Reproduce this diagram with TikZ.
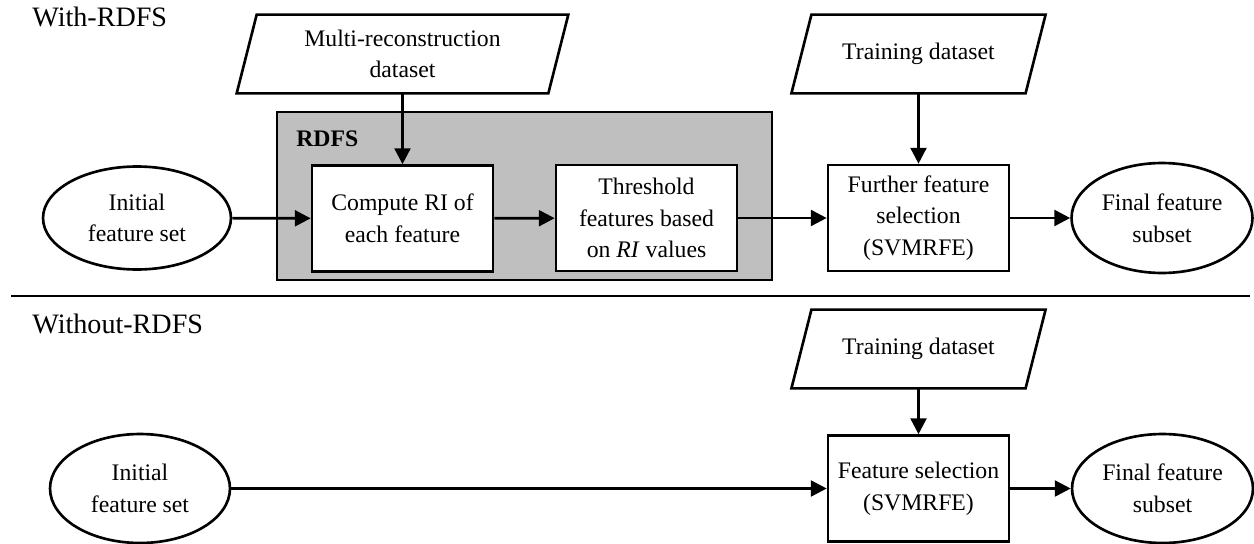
\documentclass[tikz,border=0pt]{standalone}
\usepackage{fontspec}
\setmainfont{Liberation Serif}
\usetikzlibrary{calc,arrows.meta,shapes.geometric}

\begin{document}
\begin{tikzpicture}[x=0.02cm,y=-0.02cm,font=\fontsize{13.5}{18}\selectfont]
\tikzset{
% Node styles for the flow chart: terminal, process and data
term node/.style={ellipse,draw,line width=1.5pt,align=center,inner sep=0pt,minimum width=3.62cm,minimum height=2.18cm},
proc node/.style={rectangle,draw,line width=1.5pt,fill=white,align=center,inner sep=0pt,minimum width=3.62cm,minimum height=2.12cm},
data node/.style={rectangle,align=center,inner sep=0pt,minimum height=1.56cm},
flow/.style={-{Triangle[length=9pt,width=9pt]},line width=1.5pt},
title/.style={font=\fontsize{16}{19}\selectfont,anchor=base west,inner sep=0pt}
}
\useasboundingbox (0,0) rectangle (1254,544);

% With-RDFS
\node[title] (t1) at (32,27) {With-RDFS};
\node(rdfs)[draw,line width=1.5pt,fill=black!25,minimum width=9.9cm,minimum height=3.36cm] at (524.5,196) {};
\node(rdfs lab)[anchor=base west,inner sep=0pt,font=\fontsize{13.5}{18}\selectfont\bfseries] at (296,147) {RDFS};
\node(multi)[data node,minimum width=6.22cm] at (402.5,54) {Multi-reconstruction\\ dataset};
\node(train1)[data node,minimum width=4.67cm] at (918.5,54) {Training dataset};
\node(init1)[term node,minimum width=3.76cm,minimum height=2.06cm] at (137,218) {Initial\\ feature set};
\node(compute)[proc node] at (402.5,218.5) {Compute RI of\\ each feature};
\node(thresh)[proc node] at (646.5,218) {Threshold\\ features based\\ on \textit{RI} values};
\node(further)[proc node] at (918.5,218) {Further feature\\ selection\\ (SVMRFE)};
\node(final1)[term node,minimum height=2.2cm] at (1162,218) {Final feature\\ subset};

\draw[flow] (multi) -- (compute);
\draw[flow] (init1) -- (compute);
\draw[flow] (compute) -- (thresh);
\draw[flow] (thresh) -- (further);
\draw[flow] (train1) -- (further);
\draw[flow] (further) -- (final1);

% separator
\draw[line width=1.6pt] (11,296) -- (1250,296);

% Without-RDFS
\node[title] (t2) at (32,333) {Without-RDFS};
\node(train2)[data node,minimum width=4.67cm] at (918.5,349) {Training dataset};
\node(init2)[term node,minimum width=3.6cm] at (140,488.5) {Initial\\ feature set};
\node(fsel)[proc node] at (918.5,488.5) {Feature selection\\ (SVMRFE)};
\node(final2)[term node] at (1162.5,488.5) {Final feature\\ subset};

\draw[flow] (init2) -- (fsel);
\draw[flow] (train2) -- (fsel);
\draw[flow] (fsel) -- (final2);

% slanted outline of the data nodes
\foreach \n in {multi,train1,train2}
\draw[line width=1.5pt] ($(\n.south west)+(-10,0)$) -- ($(\n.north west)+(10,0)$) -- ($(\n.north east)+(10,0)$) -- ($(\n.south east)+(-10,0)$) -- cycle;
\end{tikzpicture}
\end{document}
